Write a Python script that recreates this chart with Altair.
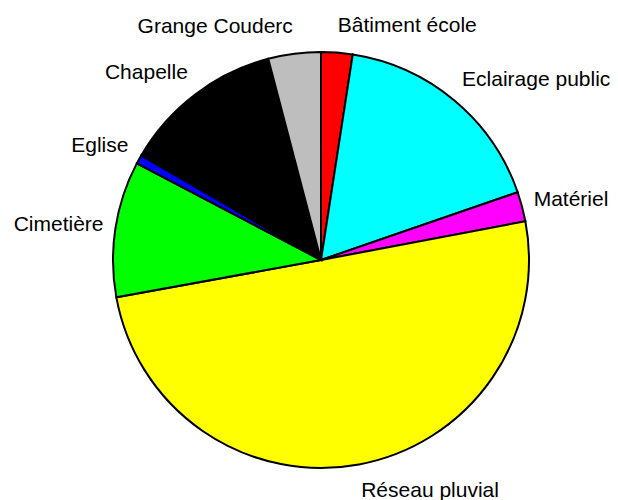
import altair as alt
import pandas as pd

labels = ["Bâtiment école", "Eclairage public", "Matériel", "Réseau pluvial",
          "Cimetière", "Eglise", "Chapelle", "Grange Couderc"]
values = [2.44, 17.28, 2.3, 50.1, 10.56, 0.7, 12.53, 4.08]
colors = ["#FF0000", "#00FFFF", "#FF00FF", "#FFFF00",
          "#00FF00", "#0000FF", "#000000", "#BEBEBE"]

df = pd.DataFrame({"label": labels, "value": values, "order": list(range(len(labels)))})
total = float(sum(values))

CX, CY, R = 313, 252, 208
RX, RY = 220, 235
theta_scale = alt.Scale(domain=[0, total], range=[0, 6.283185307179586])

base = alt.Chart(df).transform_window(
    cum="sum(value)", sort=[alt.SortField("order")], frame=[None, 0]
).transform_calculate(
    mid="(datum.cum - datum.value/2) / " + repr(total) + " * 2 * PI",
).transform_calculate(
    side="sin(datum.mid) >= 0 ? 'right' : 'left'",
    lx=f"{CX} + {RX} * sin(datum.mid)",
    ly=f"{CY} - {RY} * cos(datum.mid)",
)

arcs = base.mark_arc(radius=R, stroke="black", strokeWidth=2).encode(
    theta=alt.Theta("value:Q", stack=True, scale=theta_scale),
    color=alt.Color("label:N", scale=alt.Scale(domain=labels, range=colors), legend=None),
    order=alt.Order("order:Q"),
    x=alt.value(CX), y=alt.value(CY),
)

def text_layer(side, align):
    return base.mark_text(align=align, baseline="middle",
                          font="Liberation Sans", fontSize=21, color="black").encode(
        x=alt.X("lx:Q", scale=None, axis=None),
        y=alt.Y("ly:Q", scale=None, axis=None),
        text="label:N",
    ).transform_filter(alt.datum.side == side)

chart = alt.layer(arcs, text_layer("right", "left"), text_layer("left", "right")).properties(
    width=602, height=500, padding=0, autosize="none"
).configure_view(stroke=None)

chart.save("out.html", embed_options={"renderer": "svg", "actions": False})
